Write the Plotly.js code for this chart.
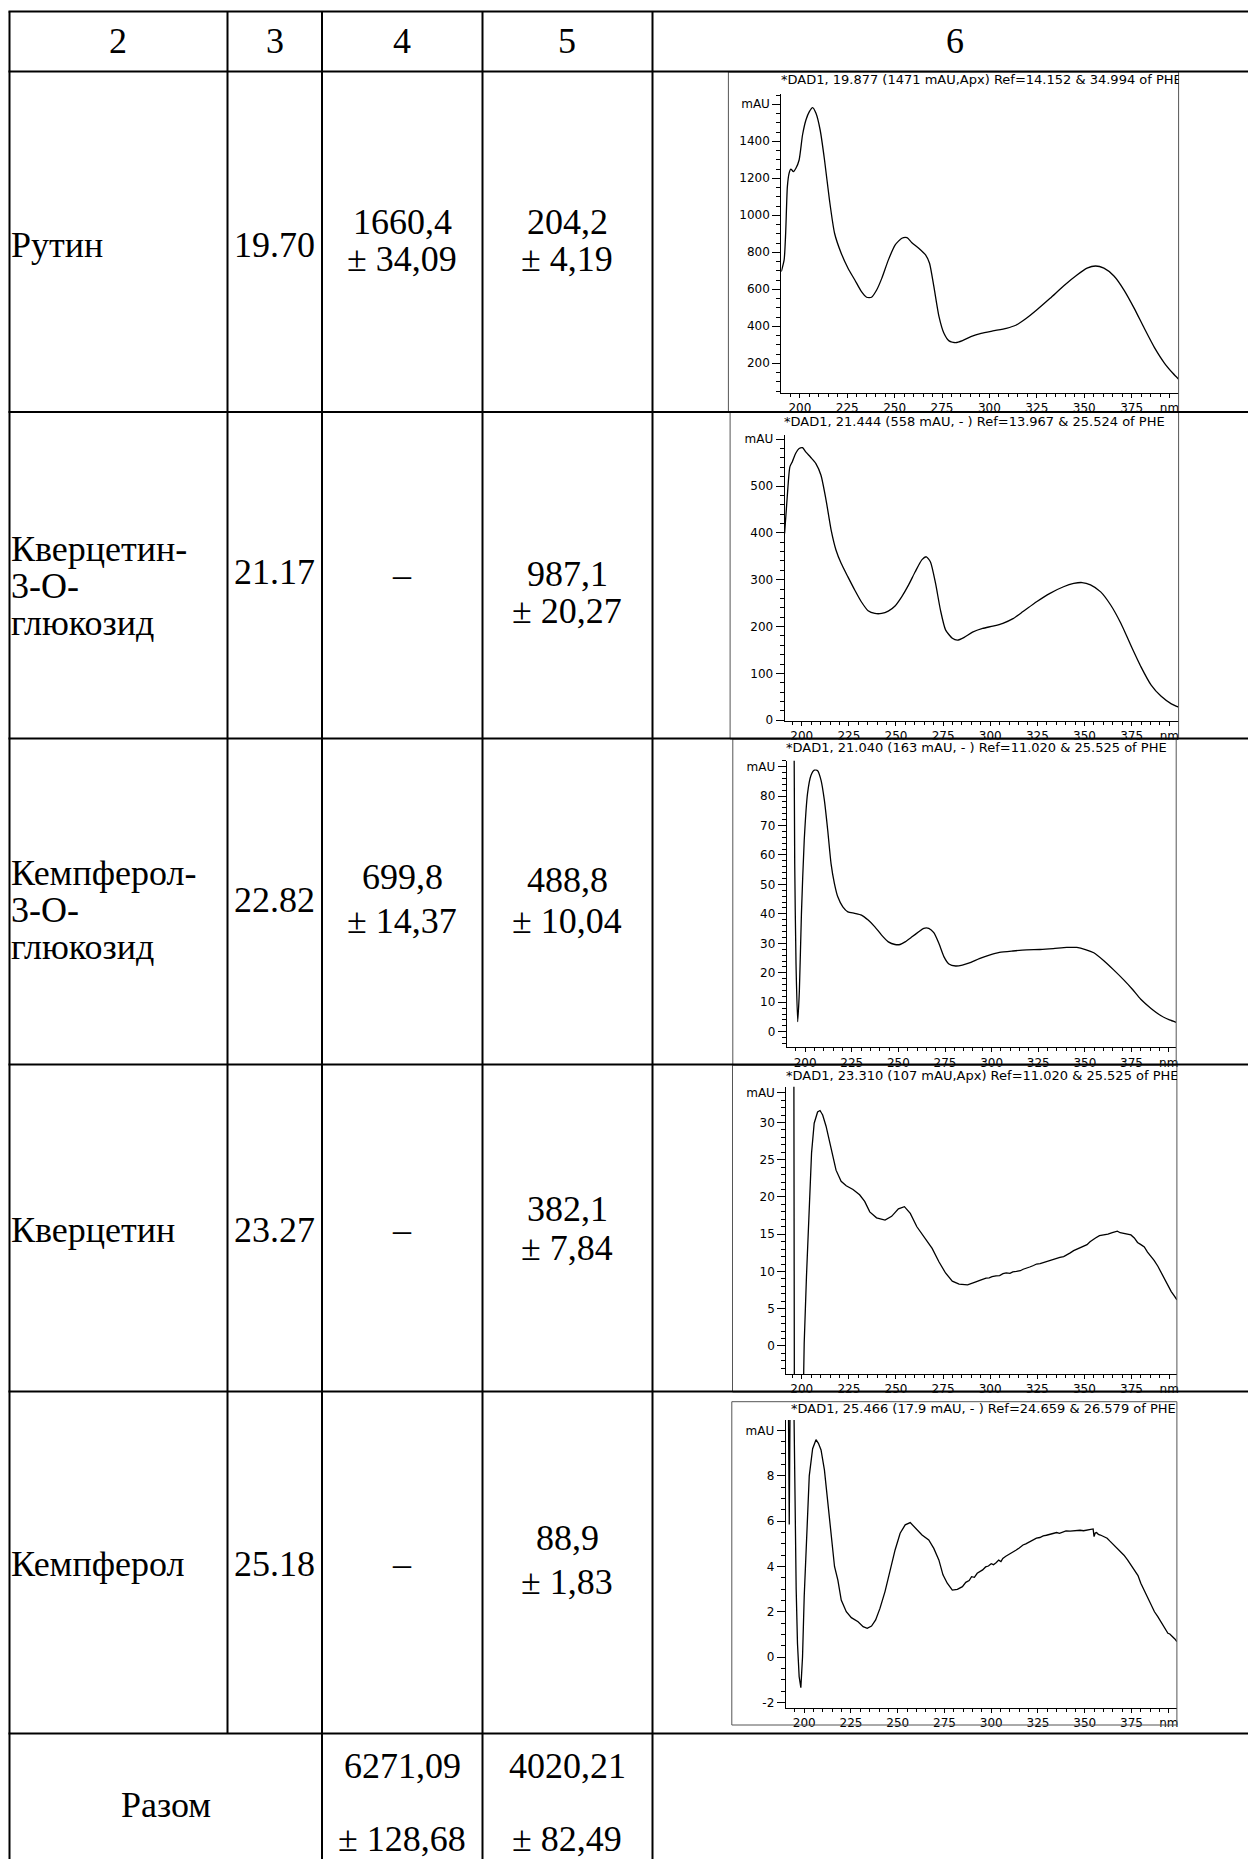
<!DOCTYPE html>
<html>
<head>
<meta charset="utf-8">
<script src="https://cdn.plot.ly/plotly-3.0.1.min.js"></script>
<style>html,body{margin:0;padding:0;background:#fff}</style>
</head>
<body>
<div id="chart" style="width:1248px;height:1859px"></div>
<script>
// ---- table content ----
const headers = ['2', '3', '4', '5', '6'];
const compoundLines = [
  ['Рутин'],
  ['Кверцетин-', '3-O-', 'глюкозид'],
  ['Кемпферол-', '3-O-', 'глюкозид'],
  ['Кверцетин'],
  ['Кемпферол']
];
const retentionTimes = ['19.70', '21.17', '22.82', '23.27', '25.18'];
const col4Mean = ['1660,4', null, '699,8', null, null];
const col4Err  = ['34,09', null, '14,37', null, null];
const col5Mean = ['204,2', '987,1', '488,8', '382,1', '88,9'];
const col5Err  = ['4,19', '20,27', '10,04', '7,84', '1,83'];
const totalLabel = 'Разом';
const total4 = ['6271,09', '128,68'];
const total5 = ['4020,21', '82,49'];

// ---- UV spectra (DAD) ----
const spectrumTitles = [
  '*DAD1, 19.877 (1471 mAU,Apx) Ref=14.152 & 34.994 of PHE',
  '*DAD1, 21.444 (558 mAU, - ) Ref=13.967 & 25.524 of PHE',
  '*DAD1, 21.040 (163 mAU, - ) Ref=11.020 & 25.525 of PHE',
  '*DAD1, 23.310 (107 mAU,Apx) Ref=11.020 & 25.525 of PHE',
  '*DAD1, 25.466 (17.9 mAU, - ) Ref=24.659 & 26.579 of PHE'
];
const xTickVals = [200, 225, 250, 275, 300, 325, 350, 375, 395];
const xTickText = ['200', '225', '250', '275', '300', '325', '350', '375', 'nm'];

const rutinNm = [190.2,191.7,192.5,193.4,194.3,195.2,196.6,197.9,199.6,201.4,203.2,205.0,206.7,208.5,210.7,213.0,215.6,218.3,221.8,225.4,229.0,232.5,235.2,237.8,240.5,243.2,246.7,250.3,253.8,256.5,259.1,262.7,266.3,268.4,270.7,273.4,276.0,278.7,282.2,285.8,290.2,295.6,301.8,308.9,314.2,319.5,324.9,332.0,339.1,346.2,351.5,356.0,360.4,365.7,371.0,376.4,381.7,387.0,392.4,396.8,399.8];
const rutinMau = [696,759,903,1155,1227,1250,1236,1254,1299,1434,1515,1560,1582,1551,1461,1299,1083,903,795,714,650,587,557,557,596,659,759,840,876,879,852,822,786,741,614,452,362,321,312,323,344,362,375,389,407,443,488,551,618,677,714,726,714,672,596,497,389,286,200,146,114];

const q3gNm = [190.9,192.3,193.7,195.0,196.8,198.6,200.4,202.1,204.8,207.5,210.2,212.9,215.6,218.2,220.9,224.5,228.1,231.6,235.2,238.8,242.4,245.9,249.5,253.1,256.7,260.2,263.8,266.1,268.3,271.0,273.6,276.3,279.9,282.6,286.2,290.6,296.0,301.4,306.7,312.1,317.4,324.6,331.7,338.9,344.3,348.7,353.2,358.6,363.9,369.3,374.6,380.0,385.4,390.7,396.1,400.0];
const q3gMau = [399,477,541,552,570,580,582,573,561,548,523,470,406,363,335,306,278,253,234,228,228,233,244,264,289,317,343,349,338,292,235,193,175,171,177,188,196,201,207,217,232,253,271,285,292,294,289,274,246,207,160,114,75,51,35,28];

const k3gNm = [193.8,194.4,195.1,196.0,196.9,198.0,199.5,201.3,203.1,204.9,206.7,208.5,210.3,212.1,213.9,215.7,217.5,220.2,222.9,226.5,230.2,233.8,237.4,241.0,244.6,248.2,250.9,253.6,257.3,260.9,263.6,266.3,269.0,271.7,274.4,277.1,280.7,284.3,288.9,293.4,298.8,304.2,311.4,318.7,325.9,333.1,340.3,345.7,350.3,354.8,360.2,365.6,371.0,375.5,380.0,385.5,390.9,395.4,399.0];
const k3gMau = [130,57,23,3.4,14,40,65,81,87,88.8,88.6,85.4,78.6,68.4,57,50.3,45.8,42.4,40.7,40.2,39.6,37.9,35.6,32.8,30.5,29.6,29.6,30.5,32.2,33.9,35.1,35.1,33.6,30,25.5,23,22.3,22.6,23.5,24.8,26,26.9,27.4,27.8,27.9,28.2,28.6,28.6,27.9,26.8,24.1,20.9,17.5,14.4,11,7.9,5.4,4,3.2];

const querNm = [195.8,196.1,200.6,201.3,202.5,203.9,205.2,206.6,208.4,209.7,211.1,212.9,215.6,218.2,220.9,223.6,227.2,230.7,233.4,236.1,239.7,244.2,247.7,251.3,254.5,257.6,261.1,264.7,269.2,272.8,276.3,279.9,283.5,288.0,290.2,292.4,294.5,296.5,297.8,299.5,301.0,303.1,305.0,306.8,308.5,310.5,312.0,313.9,316.0,317.5,319.2,321.0,323.0,324.6,326.5,328.3,330.0,332.0,333.5,335.3,337.0,339.0,340.7,342.5,344.3,346.0,348.0,349.8,351.4,353.0,354.5,355.9,358.0,360.4,362.5,364.8,366.3,367.5,369.0,371.1,373.0,374.7,376.5,378.2,380.0,381.8,383.5,385.4,387.0,389.0,390.8,392.5,394.3,396.1,397.8,399.1];
const querMau = [40,-10,-10,0.36,9.3,19.2,25.9,29.9,31.4,31.6,31.0,29.5,26.3,23.6,22.1,21.5,21.0,20.3,19.4,18.0,17.2,16.9,17.4,18.4,18.7,17.8,16.0,14.7,13.1,11.3,9.8,8.7,8.3,8.2,8.35,8.6,8.8,9.0,9.1,9.15,9.3,9.4,9.45,9.7,9.8,9.75,9.95,10.0,10.1,10.3,10.4,10.6,10.8,11.0,11.05,11.2,11.3,11.5,11.6,11.8,11.9,12.0,12.2,12.5,12.8,13.0,13.2,13.4,13.6,14.0,14.3,14.5,14.8,14.9,15.0,15.2,15.3,15.4,15.2,15.1,15.05,14.9,14.5,13.9,13.6,13.3,12.6,12.0,11.5,10.7,9.8,8.9,8.0,7.3,6.7,6.2];

const kaemNm = [191.4,192.0,192.6,194.2,195.0,195.7,196.4,197.3,198.2,199.1,200.0,201.3,202.7,204.5,206.3,207.6,209.0,210.8,212.6,214.4,216.2,218.0,219.8,222.5,225.2,228.8,231.5,233.7,236.0,238.2,240.5,243.2,245.9,248.6,251.3,254.0,256.7,259.4,263.0,266.6,269.3,272.0,274.2,276.5,279.2,281.9,284.6,286.4,288.2,289.5,291.0,292.5,294.0,295.4,297.0,298.5,300.0,301.2,302.6,304.0,305.2,306.2,307.8,309.8,311.5,313.4,315.0,317.0,318.5,320.6,322.3,324.2,326.0,327.8,329.5,331.4,333.0,335.0,336.5,338.6,340.0,342.2,344.0,345.8,347.5,349.4,351.2,353.0,354.5,355.0,355.6,356.3,357.3,358.4,360.2,362.0,363.5,365.6,367.2,369.2,371.0,372.9,374.5,376.4,377.5,378.5,380.0,381.8,383.6,385.5,387.3,389.0,390.9,392.7,394.5,395.5,397.1,398.2,399.3];
const kaemMau = [13,5.85,13,13,5.9,3.0,0.6,-0.87,-1.35,0,2.67,5.6,8.0,9.2,9.6,9.44,9.15,8.27,6.94,5.47,4.0,3.4,2.52,2.0,1.74,1.56,1.34,1.27,1.37,1.64,2.15,2.89,3.85,4.73,5.47,5.84,5.94,5.69,5.39,5.17,4.8,4.29,3.63,3.26,2.96,2.99,3.11,3.3,3.38,3.55,3.52,3.7,3.78,3.85,3.98,4.02,4.12,4.08,4.17,4.28,4.22,4.36,4.45,4.54,4.62,4.73,4.82,4.95,5.0,5.1,5.16,5.25,5.28,5.35,5.38,5.42,5.47,5.5,5.46,5.53,5.57,5.56,5.58,5.57,5.6,5.58,5.6,5.61,5.66,5.32,5.48,5.5,5.42,5.39,5.33,5.25,5.12,4.95,4.85,4.66,4.5,4.29,4.1,3.85,3.7,3.6,3.26,2.95,2.6,2.3,2.0,1.8,1.56,1.3,1.05,1.02,0.9,0.8,0.68];

const spectraX = [rutinNm, q3gNm, k3gNm, querNm, kaemNm];
const spectraY = [rutinMau, q3gMau, k3gMau, querMau, kaemMau];

// ---- page geometry (pixels) ----
const W = 1248, H = 1859;
const px = v => v / W;
const py = v => 1 - v / H;

const colX = [9.5, 227.5, 322, 482.5, 652.5];
const rowY = [11.5, 71.5, 412, 738.5, 1064.5, 1391.5, 1733.5];
const headerX = [118, 274.5, 402, 567, 955];
const headerY = 41.5;

// text line centres inside each data row
const nameLineY = [[245], [549, 586, 623], [873, 910, 947], [1230], [1564]];
const rtY = [245, 572, 900, 1230, 1564];
const col4Y = [[222, 259], [575], [877, 921], [1230], [1564]];
const col5Y = [[222, 259], [574, 611], [880, 921], [1209, 1248], [1538, 1582]];
const totalY = { label: 1805, lines: [1766, 1839] };

// plot boxes: axis domains, ranges, frame, title placement
const plots = [
  { x0: 781.3, x1: 1178.6, y0: 94.3, y1: 392.7, xr: [190.2, 399.8], yr: [41, 1654],
    yt: [200, 400, 600, 800, 1000, 1200, 1400, 1600], ydt: 50,
    frame: [728.4, 72, 1178.6, 412], tx: 779, ty: 80, tr: 1178.6 },
  { x0: 784.6, x1: 1178.6, y0: 435, y1: 720.7, xr: [190.9, 399.95], yr: [-1, 609],
    yt: [0, 100, 200, 300, 400, 500, 600], ydt: 20,
    frame: [730.1, 412, 1178.6, 739], tx: 782, ty: 421.5, tr: 1178.6 },
  { x0: 786.7, x1: 1176.2, y0: 760.7, y1: 1047.3, xr: [190.1, 399], yr: [-5.3, 92],
    yt: [0, 10, 20, 30, 40, 50, 60, 70, 80, 90], ydt: 2,
    frame: [732.8, 739, 1176.2, 1065], tx: 784, ty: 747.5, tr: 1176.2 },
  { x0: 786.3, x1: 1176.9, y0: 1086.7, y1: 1374, xr: [191.8, 399.1], yr: [-3.76, 34.8],
    yt: [0, 5, 10, 15, 20, 25, 30, 34], ydt: 1,
    frame: [732.5, 1065, 1176.9, 1392], tx: 784, ty: 1075.5, tr: 1176.9 },
  { x0: 785.7, x1: 1176.9, y0: 1420, y1: 1708, xr: [190.1, 399.3], yr: [-2.25, 10.47],
    yt: [-2, 0, 2, 4, 6, 8, 10], ydt: 0.5,
    frame: [731.8, 1401.7, 1176.9, 1725], tx: 789, ty: 1408.5, tr: 1176.9 }
];

const sans = 'DejaVu Sans, Liberation Sans, Arial, sans-serif';
const serif = 'Liberation Serif, Times New Roman, serif';
const tickFont = { family: sans, size: 12, color: '#000' };

const data = [];
const layout = {
  width: W, height: H,
  margin: { l: 0, r: 0, t: 0, b: 0, pad: 0 },
  paper_bgcolor: '#fff', plot_bgcolor: 'rgba(0,0,0,0)',
  showlegend: false,
  shapes: [], annotations: []
};

plots.forEach((p, i) => {
  const n = i === 0 ? '' : String(i + 1);
  data.push({
    type: 'scatter', mode: 'lines',
    x: spectraX[i], y: spectraY[i],
    xaxis: 'x' + n, yaxis: 'y' + n,
    line: { color: '#000', width: 1.3, shape: i < 3 ? 'spline' : 'linear', smoothing: 0.6 },
    hoverinfo: 'skip'
  });
  layout['xaxis' + n] = {
    domain: [px(p.x0), px(p.x1)], range: p.xr, anchor: 'y' + n,
    tickmode: 'array', tickvals: xTickVals, ticktext: xTickText,
    ticks: 'outside', ticklen: 4, tickwidth: 1, tickcolor: '#000',
    minor: { tickmode: 'linear', tick0: 0, dtick: 5, ticks: 'outside', ticklen: 3, tickwidth: 1, tickcolor: '#000', showgrid: false },
    showline: true, linecolor: '#000', linewidth: 1,
    showgrid: false, zeroline: false, tickfont: tickFont, fixedrange: true
  };
  layout['yaxis' + n] = {
    domain: [py(p.y1), py(p.y0)], range: p.yr, anchor: 'x' + n,
    tickmode: 'array', tickvals: p.yt,
    ticktext: p.yt.map((v, k) => k === p.yt.length - 1 ? 'mAU' : String(v)),
    ticks: 'outside', ticklen: 8, tickwidth: 1, tickcolor: '#000',
    minor: { tickmode: 'linear', tick0: 0, dtick: p.ydt, ticks: 'outside', ticklen: 4, tickwidth: 1, tickcolor: '#000', showgrid: false },
    showline: true, linecolor: '#000', linewidth: 1,
    showgrid: false, zeroline: false, tickfont: tickFont, fixedrange: true
  };
  // frame around each spectrum
  const f = p.frame;
  layout.shapes.push({ type: 'rect', xref: 'paper', yref: 'paper',
    x0: px(f[0]), x1: px(f[2]), y0: py(f[3]), y1: py(f[1]),
    line: { color: '#555', width: 1 }, fillcolor: 'rgba(0,0,0,0)' });
  // spectrum header, clipped at the frame edge
  layout.annotations.push({ xref: 'paper', yref: 'paper',
    x: px(p.tx), y: py(p.ty), xanchor: 'left', yanchor: 'middle',
    width: p.tr - p.tx - 2, align: 'left', showarrow: false,
    text: spectrumTitles[i], font: { family: sans, size: 13, color: '#000' } });
});

// table rules
const rule = (x0, y0, x1, y1) => layout.shapes.push({ type: 'line', xref: 'paper', yref: 'paper',
  x0: px(x0), x1: px(x1), y0: py(y0), y1: py(y1), line: { color: '#000', width: 2 } });
rowY.forEach(y => rule(colX[0] - 1, y, W, y));
rule(colX[0], rowY[0], colX[0], H);
rule(colX[1], rowY[0], colX[1], rowY[6]);
rule(colX[2], rowY[0], colX[2], H);
rule(colX[3], rowY[0], colX[3], H);
rule(colX[4], rowY[0], colX[4], H);

// table text: a compact box (blank space above the capitals trimmed) keeps
// stacked lines from sharing space; the centre is nudged to compensate
const CELL_BOX = 34, CELL_SHIFT = 3;
const cell = (text, x, y, anchor) => layout.annotations.push({
  xref: 'paper', yref: 'paper', x: px(x), y: py(y + CELL_SHIFT),
  xanchor: anchor || 'center', yanchor: 'middle', showarrow: false,
  height: CELL_BOX, valign: 'bottom', borderpad: 0,
  text: text, font: { family: serif, size: 36, color: '#000' } });

headers.forEach((h, i) => cell(h, headerX[i], headerY));
compoundLines.forEach((lines, r) => {
  lines.forEach((t, k) => cell(t, 10, nameLineY[r][k], 'left'));
  cell(retentionTimes[r], headerX[1], rtY[r]);
  if (col4Mean[r] !== null) {
    cell(col4Mean[r], headerX[2], col4Y[r][0]);
    cell('± ' + col4Err[r], headerX[2], col4Y[r][1]);
  } else {
    cell('–', headerX[2], col4Y[r][0]);
  }
  cell(col5Mean[r], headerX[3], col5Y[r][0]);
  cell('± ' + col5Err[r], headerX[3], col5Y[r][1]);
});
cell(totalLabel, (colX[0] + colX[2]) / 2, totalY.label);
cell(total4[0], headerX[2], totalY.lines[0]);
cell('± ' + total4[1], headerX[2], totalY.lines[1]);
cell(total5[0], headerX[3], totalY.lines[0]);
cell('± ' + total5[1], headerX[3], totalY.lines[1]);

Plotly.newPlot('chart', data, layout, { staticPlot: true, displayModeBar: false });
</script>
</body>
</html>
